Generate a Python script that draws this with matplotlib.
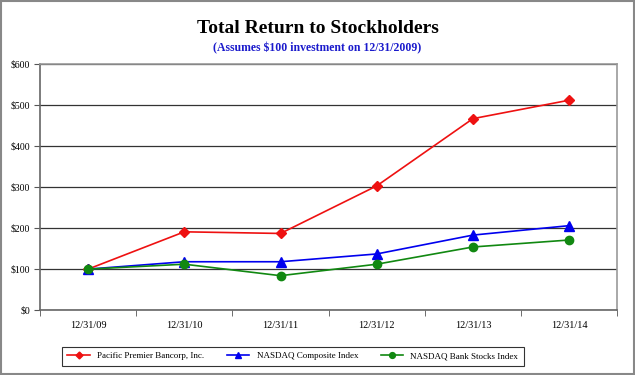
import matplotlib
matplotlib.use("Agg")
import matplotlib.pyplot as plt
import numpy as np

dates = ["12/31/09", "12/31/10", "12/31/11", "12/31/12", "12/31/13", "12/31/14"]
pacific = [100, 191, 187, 303, 467, 512]
nasdaq_comp = [100, 118, 118, 137, 183, 206]
nasdaq_bank = [100, 112, 84, 112, 154, 171]
yticks = [0, 100, 200, 300, 400, 500, 600]

plt.rcParams['font.family'] = ['Liberation Serif', 'DejaVu Serif']

fig = plt.figure(figsize=(6.35, 3.75), dpi=100)
ax = fig.add_axes([0.063, 0.173, 0.909, 0.656])

x = np.arange(len(dates))
ax.plot(x, pacific, color='#ee1111', marker='D', markersize=5, lw=1.2, label='Pacific Premier Bancorp, Inc.')
ax.plot(x, nasdaq_comp, color='#0000ee', marker='^', markersize=7, lw=1.2, label='NASDAQ Composite Index')
ax.plot(x, nasdaq_bank, color='#118811', marker='o', markersize=6, lw=1.2, label='NASDAQ Bank Stocks Index')

ax.set_xlim(-0.5, 5.5)
ax.set_ylim(0, 600)
ax.set_yticks(yticks)
ax.set_yticklabels([f"${v}" for v in yticks], fontsize=7)
ax.set_xticks(x)
ax.set_xticklabels(dates, fontsize=7.5)
ax.set_xticks(np.arange(-0.5, 5.6, 1), minor=True)
ax.tick_params(axis='x', which='major', length=0, pad=8)
ax.tick_params(axis='x', which='minor', length=4, direction='out', color='#555555')
ax.tick_params(axis='y', length=4, direction='out', color='#555555', pad=3)
ax.yaxis.grid(True, color='#333333', lw=0.9)
ax.set_axisbelow(True)
for s in ['top', 'right']:
    ax.spines[s].set_color('#999999')
    ax.spines[s].set_linewidth(1.2)
for s in ['left', 'bottom']:
    ax.spines[s].set_color('#666666')
    ax.spines[s].set_linewidth(1.2)

fig.text(0.5, 0.925, "Total Return to Stockholders", ha='center', va='center',
         fontsize=14, fontweight='bold', color='black')
fig.text(0.5, 0.872, "(Assumes $100 investment on 12/31/2009)", ha='center', va='center',
         fontsize=8.5, fontweight='bold', color='#1a1acc')

leg = fig.legend(loc='center', bbox_to_anchor=(0.461, 0.05), ncol=3, fontsize=6.5,
                 frameon=True, fancybox=False, edgecolor='black', handlelength=2.5,
                 columnspacing=2.5, markerscale=0.7, borderpad=0.6)
leg.get_frame().set_linewidth(0.8)

border = plt.Rectangle((0.002, 0.003), 0.996, 0.994, transform=fig.transFigure,
                       fill=False, edgecolor='#888888', lw=1.5)
fig.patches.append(border)

fig.savefig("out.png", dpi=100)
